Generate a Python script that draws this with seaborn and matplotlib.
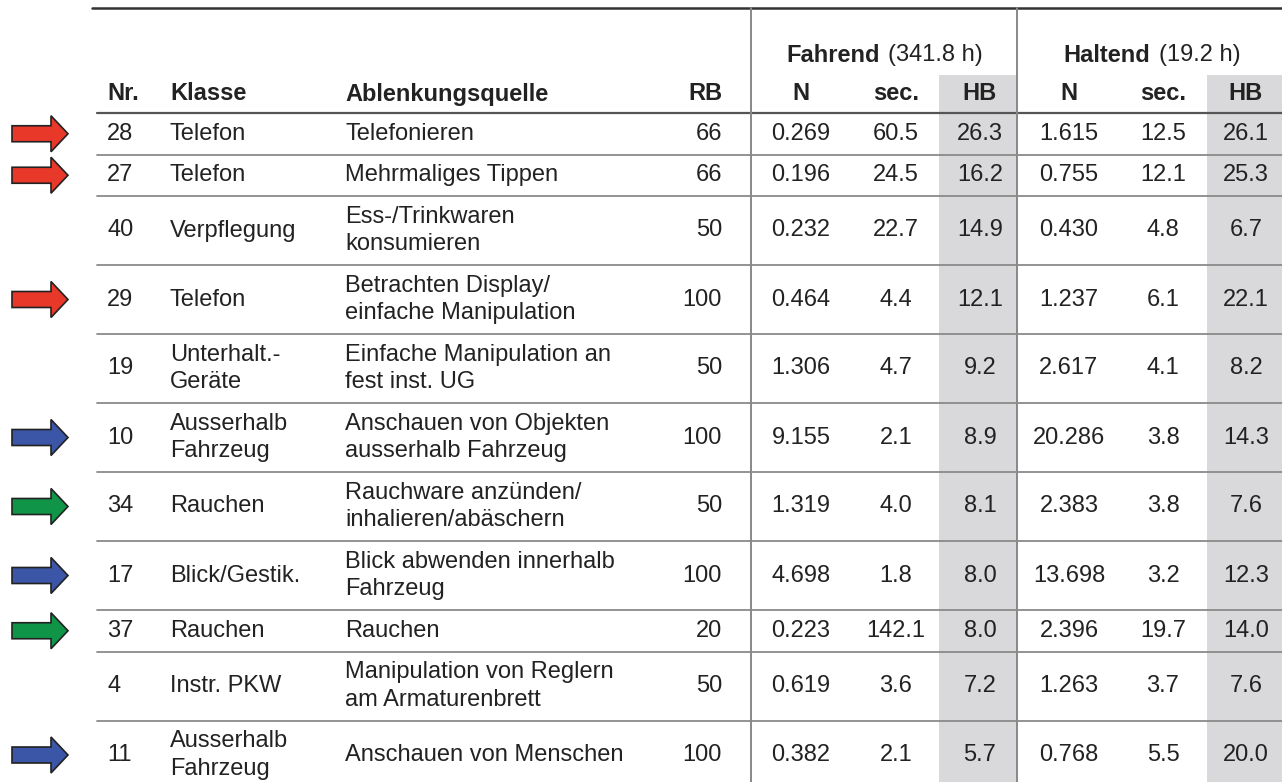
import matplotlib
matplotlib.use('Agg')
import matplotlib.pyplot as plt
import matplotlib.patches as mpatches
import seaborn as sns

# Table data
nr = ['28', '27', '40', '29', '19', '10', '34', '17', '37', '4', '11']
klasse = ['Telefon', 'Telefon', 'Verpflegung', 'Telefon', 'Unterhalt.-\nGeräte',
          'Ausserhalb\nFahrzeug', 'Rauchen', 'Blick/Gestik.', 'Rauchen', 'Instr. PKW',
          'Ausserhalb\nFahrzeug']
quelle = ['Telefonieren', 'Mehrmaliges Tippen', 'Ess-/Trinkwaren\nkonsumieren',
          'Betrachten Display/\neinfache Manipulation', 'Einfache Manipulation an\nfest inst. UG',
          'Anschauen von Objekten\nausserhalb Fahrzeug', 'Rauchware anzünden/\ninhalieren/abäschern',
          'Blick abwenden innerhalb\nFahrzeug', 'Rauchen', 'Manipulation von Reglern\nam Armaturenbrett',
          'Anschauen von Menschen']
rb = ['66', '66', '50', '100', '50', '100', '50', '100', '20', '50', '100']
fahr_n = ['0.269', '0.196', '0.232', '0.464', '1.306', '9.155', '1.319', '4.698', '0.223', '0.619', '0.382']
fahr_sec = ['60.5', '24.5', '22.7', '4.4', '4.7', '2.1', '4.0', '1.8', '142.1', '3.6', '2.1']
fahr_hb = ['26.3', '16.2', '14.9', '12.1', '9.2', '8.9', '8.1', '8.0', '8.0', '7.2', '5.7']
halt_n = ['1.615', '0.755', '0.430', '1.237', '2.617', '20.286', '2.383', '13.698', '2.396', '1.263', '0.768']
halt_sec = ['12.5', '12.1', '4.8', '6.1', '4.1', '3.8', '3.8', '3.2', '19.7', '3.7', '5.5']
halt_hb = ['26.1', '25.3', '6.7', '22.1', '8.2', '14.3', '7.6', '12.3', '14.0', '7.6', '20.0']
marker = ['red', 'red', None, 'red', None, 'blue', 'green', 'blue', 'green', None, 'blue']

arrow_colors = {'red': '#e8382a', 'blue': '#3b56a6', 'green': '#0f9448'}

sns.set_theme(style='white')
plt.rcParams['font.family'] = ['Liberation Sans', 'DejaVu Sans']

fig = plt.figure(figsize=(12.82, 7.82), dpi=100)
ax = fig.add_axes([0, 0, 1, 1])
ax.set_xlim(0, 1282)
ax.set_ylim(782, 0)
ax.axis('off')

txt_color = '#222222'
fs = 17

# shaded HB columns
ax.fill_between([939, 1017], 75, 782, color='#d9d9db', lw=0)
ax.fill_between([1207, 1282], 75, 782, color='#d9d9db', lw=0)

# rules
ax.plot([92, 1282], [8, 8], color='#333333', lw=1.8)
ax.plot([97, 1282], [113, 113], color='#555555', lw=1.6)
ax.plot([751, 751], [8, 782], color='#888888', lw=1.4)
ax.plot([1017, 1017], [8, 782], color='#888888', lw=1.4)

# group headers
ax.text(786, 55, 'Fahrend', ha='left', va='center', fontsize=fs, fontweight='bold', color=txt_color)
ax.text(888, 55, '(341.8 h)', ha='left', va='center', fontsize=fs, color=txt_color)
ax.text(1063, 55, 'Haltend', ha='left', va='center', fontsize=fs, fontweight='bold', color=txt_color)
ax.text(1159, 55, '(19.2 h)', ha='left', va='center', fontsize=fs, color=txt_color)

# column headers
headers = [('Nr.', 107, 'left'), ('Klasse', 170, 'left'), ('Ablenkungsquelle', 345, 'left'),
           ('RB', 722, 'right'), ('N', 801, 'center'), ('sec.', 896, 'center'), ('HB', 980, 'center'),
           ('N', 1069, 'center'), ('sec.', 1163, 'center'), ('HB', 1246, 'center')]
for label, x, ha in headers:
    ax.text(x, 94, label, ha=ha, va='center', fontsize=fs, fontweight='bold', color=txt_color)

# rows
y0 = 113
for i in range(len(nr)):
    nlines = max(klasse[i].count('\n'), quelle[i].count('\n')) + 1
    h = 41.5 if nlines == 1 else 69
    yc = y0 + h / 2
    cells = [(nr[i], 107, 'left'), (klasse[i], 170, 'left'), (quelle[i], 345, 'left'),
             (rb[i], 722, 'right'), (fahr_n[i], 801, 'center'), (fahr_sec[i], 896, 'center'),
             (fahr_hb[i], 980, 'center'), (halt_n[i], 1069, 'center'), (halt_sec[i], 1163, 'center'),
             (halt_hb[i], 1246, 'center')]
    for t, x, ha in cells:
        ax.text(x, yc, t, ha=ha, va='center', fontsize=fs, color=txt_color, linespacing=1.3)
    if marker[i] is not None:
        arr = mpatches.FancyArrow(12, yc, 56, 0, width=16, head_width=36, head_length=17,
                                  length_includes_head=True, facecolor=arrow_colors[marker[i]],
                                  edgecolor='#222222', lw=1.2)
        ax.add_patch(arr)
    y0 += h
    if i < len(nr) - 1:
        ax.plot([97, 1282], [y0, y0], color='#8a8a8a', lw=1.3)

fig.savefig('out.png', dpi=100)
